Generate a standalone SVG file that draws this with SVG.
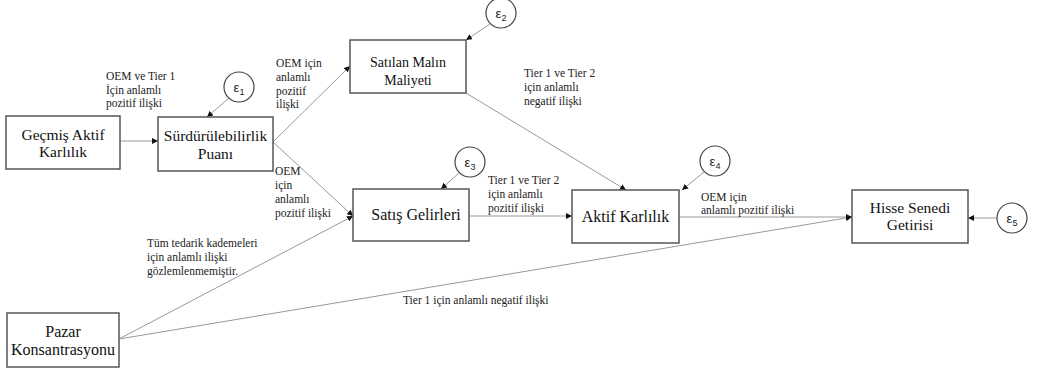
<svg xmlns="http://www.w3.org/2000/svg" width="1037" height="371" viewBox="0 0 1037 371">
<style>
.box{fill:#fff;stroke:#555;stroke-width:1.5}
.nt{font-family:'Liberation Serif','Times New Roman',Tinos,'DejaVu Serif',serif;font-size:15.5px;fill:#111;text-anchor:middle}
.lb{font-family:'Liberation Serif','Times New Roman',Tinos,'DejaVu Serif',serif;font-size:11.5px;fill:#222}
.ln{stroke:#999;stroke-width:1;fill:none;marker-end:url(#ah)}
.ec{fill:#fff;stroke:#444;stroke-width:1.2}
.et{font-family:'Liberation Sans',Arial,sans-serif;font-size:13px;fill:#222;text-anchor:middle}
</style>
<defs>
<marker id="ah" viewBox="0 0 10 10" refX="10" refY="5" markerWidth="6" markerHeight="6" markerUnits="userSpaceOnUse" orient="auto">
<path d="M0,0 L10,5 L0,10 z" fill="#111"/>
</marker>
</defs>
<rect width="1037" height="371" fill="#fff"/>
<g id="connectors">
<line class="ln" x1="120" y1="141" x2="158" y2="141"/>
<line class="ln" x1="273" y1="142" x2="350" y2="66"/>
<line class="ln" x1="273" y1="142" x2="353" y2="216"/>
<line class="ln" x1="119" y1="339" x2="353" y2="216"/>
<line class="ln" x1="119" y1="339" x2="852" y2="217"/>
<line class="ln" x1="466" y1="93" x2="626" y2="190"/>
<line class="ln" x1="469" y1="216" x2="572" y2="216"/>
<line class="ln" x1="679" y1="217" x2="852" y2="217"/>
<line class="ln" x1="229" y1="98" x2="207" y2="117"/>
<line class="ln" x1="490" y1="24" x2="466" y2="40"/>
<line class="ln" x1="459" y1="173" x2="441" y2="189"/>
<line class="ln" x1="704" y1="172" x2="682" y2="190"/>
<line class="ln" x1="997" y1="218" x2="968" y2="218"/>
</g>
<g id="labels">
<text class="lb" x="106" y="80">OEM ve Tier 1</text>
<text class="lb" x="106" y="94">İçin anlamlı</text>
<text class="lb" x="106" y="107">pozitif ilişki</text>
<text class="lb" x="276" y="67">OEM için</text>
<text class="lb" x="276" y="81">anlamlı</text>
<text class="lb" x="276" y="95">pozitif</text>
<text class="lb" x="276" y="108">ilişki</text>
<text class="lb" x="524" y="77">Tier 1 ve Tier 2</text>
<text class="lb" x="524" y="91">için anlamlı</text>
<text class="lb" x="524" y="105">negatif ilişki</text>
<text class="lb" x="275" y="175">OEM</text>
<text class="lb" x="275" y="189">için</text>
<text class="lb" x="275" y="203">anlamlı</text>
<text class="lb" x="275" y="217">pozitif ilişki</text>
<text class="lb" x="488" y="184">Tier 1 ve Tier 2</text>
<text class="lb" x="488" y="198">için anlamlı</text>
<text class="lb" x="488" y="212">pozitif ilişki</text>
<text class="lb" x="147" y="247">Tüm tedarik kademeleri</text>
<text class="lb" x="147" y="261">için anlamlı ilişki</text>
<text class="lb" x="147" y="275">gözlemlenmemiştir.</text>
<text class="lb" x="403" y="304">Tier 1 için anlamlı negatif ilişki</text>
<text class="lb" x="701" y="201">OEM için</text>
<text class="lb" x="701" y="214">anlamlı pozitif ilişki</text>
</g>
<g id="n-gecmis">
<rect class="box" x="6" y="116" width="114" height="53"/>
<text class="nt" x="63" y="140">Geçmiş Aktif</text>
<text class="nt" x="63" y="157">Karlılık</text>
</g>
<g id="n-surd">
<rect class="box" x="158" y="117" width="115" height="54"/>
<text class="nt" x="215.5" y="141">Sürdürülebilirlik</text>
<text class="nt" x="215.5" y="159">Puanı</text>
</g>
<g id="n-satilan">
<rect class="box" x="350" y="40" width="116" height="53"/>
<text class="nt" x="408" y="67" style="font-size:14px">Satılan Malın</text>
<text class="nt" x="408" y="85" style="font-size:14px">Maliyeti</text>
</g>
<g id="n-satis">
<rect class="box" x="353" y="189" width="116" height="52"/>
<text class="nt" x="416" y="220" style="font-size:16px">Satış Gelirleri</text>
</g>
<g id="n-aktif">
<rect class="box" x="572" y="190" width="107" height="53"/>
<text class="nt" x="625.5" y="222" style="font-size:16px">Aktif Karlılık</text>
</g>
<g id="n-hisse">
<rect class="box" x="852" y="190" width="116" height="53"/>
<text class="nt" x="910" y="213">Hisse Senedi</text>
<text class="nt" x="910" y="230">Getirisi</text>
</g>
<g id="n-pazar">
<rect class="box" x="7" y="313" width="112" height="54"/>
<text class="nt" x="63" y="337" style="font-size:16px">Pazar</text>
<text class="nt" x="63" y="355" style="font-size:16px">Konsantrasyonu</text>
</g>
<g id="e1"><circle class="ec" cx="239" cy="87" r="15"/><text class="et" x="239" y="92">ε<tspan font-size="9" dy="3">1</tspan></text></g>
<g id="e2"><circle class="ec" cx="501" cy="13" r="15"/><text class="et" x="501" y="18">ε<tspan font-size="9" dy="3">2</tspan></text></g>
<g id="e3"><circle class="ec" cx="470" cy="162" r="15"/><text class="et" x="470" y="167">ε<tspan font-size="9" dy="3">3</tspan></text></g>
<g id="e4"><circle class="ec" cx="715" cy="161" r="15"/><text class="et" x="715" y="166">ε<tspan font-size="9" dy="3">4</tspan></text></g>
<g id="e5"><circle class="ec" cx="1012" cy="218" r="15"/><text class="et" x="1012" y="223">ε<tspan font-size="9" dy="3">5</tspan></text></g>
</svg>
